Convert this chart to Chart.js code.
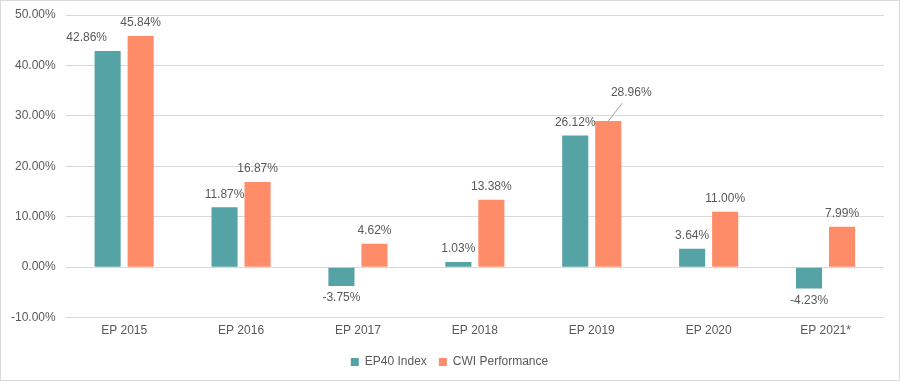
<!DOCTYPE html>
<html>
<head>
<meta charset="utf-8">
<script src="https://cdn.jsdelivr.net/npm/chart.js@4.4.0/dist/chart.umd.min.js"></script>
<style>
  html, body { margin: 0; padding: 0; background: #fff; }
  #wrap { width: 900px; height: 381px; box-sizing: border-box; border: 1px solid #d9d9d9; position: relative; }
  canvas { display: block; }
</style>
</head>
<body>
<div id="wrap"><canvas id="chart" width="898" height="379"></canvas></div>
<script>
const categories = ['EP 2015', 'EP 2016', 'EP 2017', 'EP 2018', 'EP 2019', 'EP 2020', 'EP 2021*'];
const ep40Values = [42.86, 11.87, -3.75, 1.03, 26.12, 3.64, -4.23];
const cwiValues = [45.84, 16.87, 4.62, 13.38, 28.96, 11.00, 7.99];
const seriesNames = ['EP40 Index', 'CWI Performance'];

const textColor = '#595959';
const fontFamily = '"Liberation Sans", Arial, sans-serif';

// a couple of labels were nudged by hand in the original to avoid overlaps
const labelNudge = { '0-0': [-21, 0], '1-4': [23, -15] };

// draws the value above (or below for negatives) each bar
const barLabels = {
    id: 'barLabels',
    afterDatasetsDraw(chart) {
        const ctx = chart.ctx;
        ctx.save();
        ctx.font = '12px ' + fontFamily;
        ctx.fillStyle = textColor;
        ctx.textAlign = 'center';
        ctx.textBaseline = 'middle';
        chart.data.datasets.forEach((ds, i) => {
            chart.getDatasetMeta(i).data.forEach((bar, j) => {
                const v = ds.data[j];
                const txt = v.toFixed(2) + '%';
                const [dx, dy] = labelNudge[i + '-' + j] || [0, 0];
                const x = bar.x + dx;
                const y = (v >= 0 ? bar.y - 13 : bar.y + 12) + dy;
                if (dy !== 0) {
                    // leader line back to the bar
                    ctx.strokeStyle = '#a6a6a6';
                    ctx.lineWidth = 1;
                    ctx.beginPath();
                    ctx.moveTo(bar.x, bar.y);
                    ctx.lineTo(x - 9, y + 10);
                    ctx.stroke();
                }
                ctx.fillText(txt, x, y);
            });
        });
        ctx.restore();
    }
};

new Chart(document.getElementById('chart').getContext('2d'), {
    type: 'bar',
    data: {
        labels: categories,
        datasets: [
            { label: seriesNames[0], data: ep40Values, backgroundColor: '#56a3a6' },
            { label: seriesNames[1], data: cwiValues, backgroundColor: '#ff8c69' }
        ]
    },
    options: {
        responsive: false,
        animation: false,
        categoryPercentage: 0.565,
        barPercentage: 0.79,
        layout: { padding: { top: 0, right: 1, left: 0, bottom: 2 } },
        scales: {
            x: {
                grid: { display: false, drawTicks: false },
                border: { display: false },
                ticks: { color: textColor, font: { family: fontFamily, size: 12 }, padding: 6 }
            },
            y: {
                min: -10, max: 50,
                ticks: {
                    stepSize: 10,
                    color: textColor,
                    font: { family: fontFamily, size: 12 },
                    padding: 10,
                    callback: v => v.toFixed(2) + '%'
                },
                grid: { color: '#d9d9d9', drawTicks: false },
                border: { display: false },
                afterFit: s => { s.paddingTop = 14; }
            },
            // empty right axis, only keeps the plot clear of the right edge
            yRight: {
                position: 'right',
                grid: { display: false, drawTicks: false },
                ticks: { display: false },
                border: { display: false },
                afterFit: s => { s.width = 14; }
            }
        },
        plugins: {
            legend: {
                position: 'bottom',
                labels: {
                    color: textColor,
                    font: { family: fontFamily, size: 12 },
                    boxWidth: 8, boxHeight: 8, padding: 12
                }
            },
            tooltip: { enabled: false }
        }
    },
    plugins: [barLabels]
});
</script>
</body>
</html>
